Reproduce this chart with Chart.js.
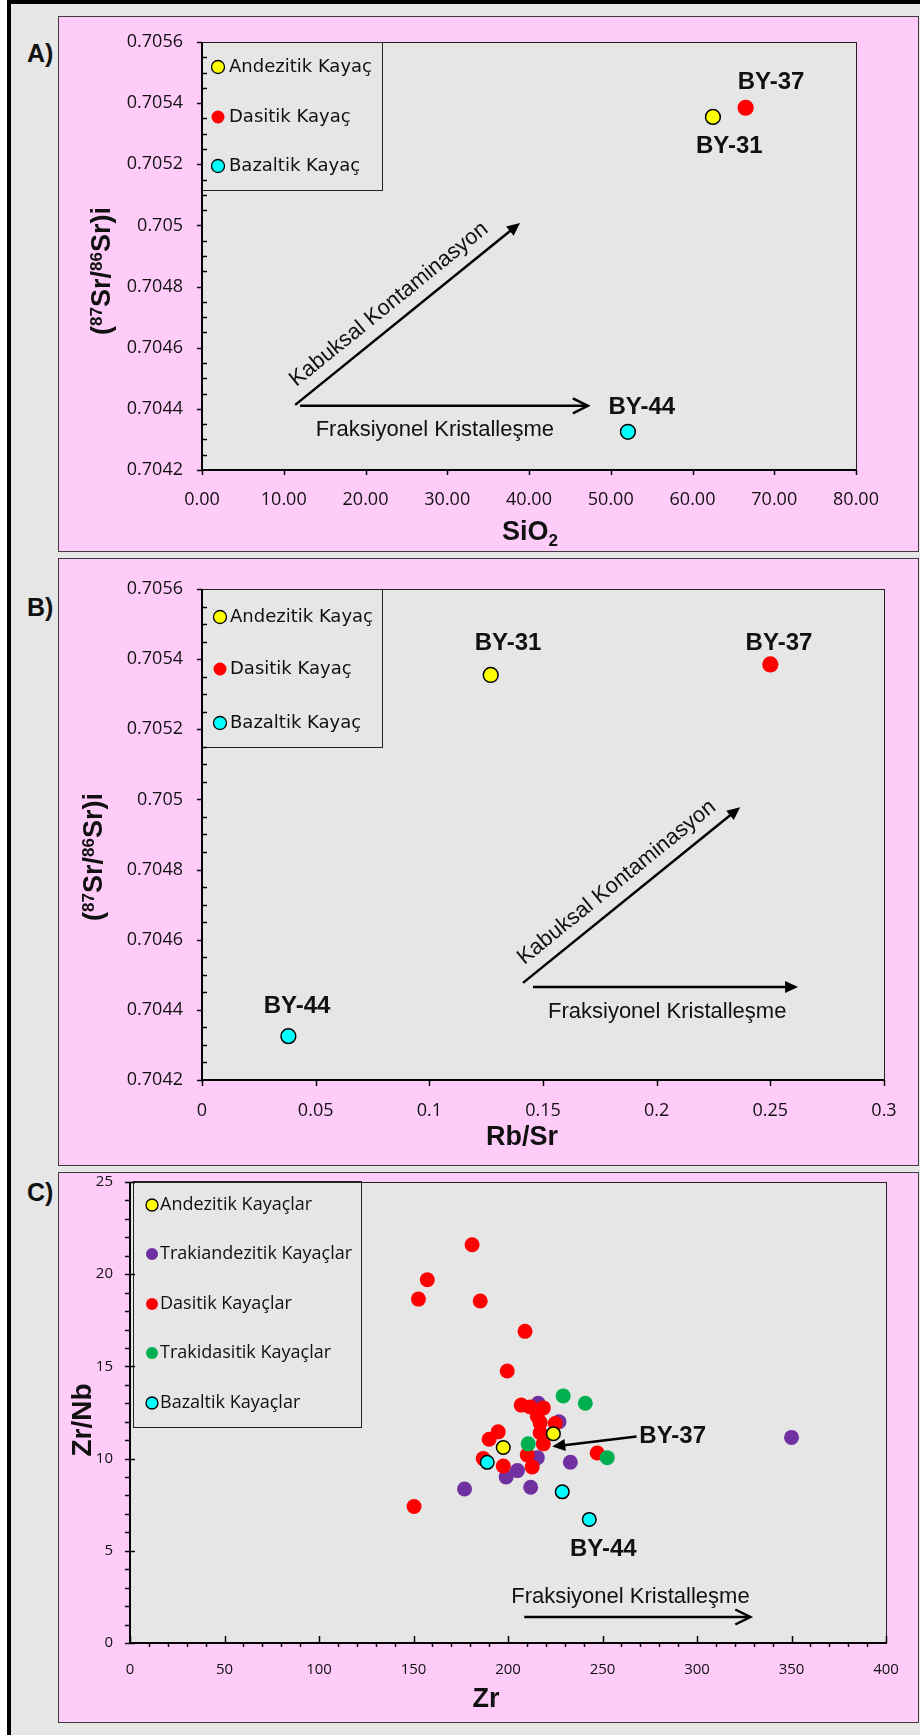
<!DOCTYPE html>
<html>
<head>
<meta charset="utf-8">
<script src="https://cdn.jsdelivr.net/npm/chart.js@4.4.0/dist/chart.umd.min.js"></script>
<style>
  body { margin: 0; background: #fff; width: 920px; height: 1735px; position: relative; overflow: hidden; }
  #frame { position: absolute; left: 7px; top: 0; width: 913px; height: 1735px; box-sizing: border-box;
           border-left: 4px solid #000; border-top: 4px solid #000; background: #e6e6e6; }
  .panel { position: absolute; left: 58px; width: 861px; box-sizing: border-box; background: #ffccfa; border: 1px solid #3c3c3c; }
  .panel canvas { position: absolute; left: -1px; top: -1px; }
  .tag { position: absolute; left: 27px; font: bold 25px "Liberation Sans", Arial, sans-serif; line-height: 25px; color: #111; }
</style>
</head>
<body>
<div id="frame"></div>
<div class="panel" style="top:16px;height:536px"><canvas id="cA" width="861" height="536"></canvas></div>
<div class="panel" style="top:558px;height:608px"><canvas id="cB" width="861" height="608"></canvas></div>
<div class="panel" style="top:1172px;height:551px"><canvas id="cC" width="861" height="551"></canvas></div>
<div class="tag" style="top:41px">A)</div>
<div class="tag" style="top:595px">B)</div>
<div class="tag" style="top:1180px">C)</div>
<script>
// panels A and B: three samples
const sampleIds = ['BY-31', 'BY-37', 'BY-44'];
const rockTypesAB = ['Andezitik Kayaç', 'Dasitik Kayaç', 'Bazaltik Kayaç'];
const sio2 = [62.5, 66.5, 52.1];
const rbSr = [0.127, 0.250, 0.038];
const srRatio = [0.705355, 0.705385, 0.704325];

const srTicks = [0.7042, 0.7044, 0.7046, 0.7048, 0.705, 0.7052, 0.7054, 0.7056];
const sio2Ticks = [0, 10, 20, 30, 40, 50, 60, 70, 80];
const rbSrTicks = [0, 0.05, 0.1, 0.15, 0.2, 0.25, 0.3];

// panel C: Zr vs Zr/Nb
const rockTypesC = ['Andezitik Kayaçlar', 'Trakiandezitik Kayaçlar', 'Dasitik Kayaçlar', 'Trakidasitik Kayaçlar', 'Bazaltik Kayaçlar'];
const zrAndezitik = [197.5, 224];
const zrNbAndezitik = [10.6, 11.35];
const zrTrakiandezitik = [216, 227, 215.5, 233, 205, 199, 177, 212, 350];
const zrNbTrakiandezitik = [13.0, 12.0, 10.05, 9.8, 9.35, 9.0, 8.35, 8.45, 11.15];
const zrDasitik = [181, 157.3, 152.6, 185.3, 209, 199.6, 207, 211.8, 218.7, 215.5, 217, 225, 217, 218.7, 194.8, 190, 186.9, 197.5, 210.2, 212.8, 247.2, 150.3];
const zrNbDasitik = [21.6, 19.7, 18.65, 18.55, 16.9, 14.75, 12.9, 12.8, 12.75, 12.3, 11.95, 11.9, 11.4, 10.8, 11.45, 11.05, 10.0, 9.6, 10.2, 9.55, 10.3, 7.4];
const zrTrakidasitik = [229.2, 240.9, 210.7, 252.5];
const zrNbTrakidasitik = [13.4, 13.0, 10.8, 10.05];
const zrBazaltik = [189, 228.7, 243];
const zrNbBazaltik = [9.8, 8.2, 6.7];

const zrTicks = [0, 50, 100, 150, 200, 250, 300, 350, 400];
const zrNbTicks = [0, 5, 10, 15, 20, 25];

const PLOT_BG = '#e6e6e6';
const TXT = '#111';
const ARIAL = '"Liberation Sans", Arial, sans-serif';

function drawArrow(ctx, p1, p2, head) {
    const ang = Math.atan2(p2[1] - p1[1], p2[0] - p1[0]);
    const c = Math.cos(ang), s = Math.sin(ang);
    const L = head === 'open' ? 15 : 13, W = head === 'open' ? 7.5 : 6;
    const bx = p2[0] - L * c, by = p2[1] - L * s;
    ctx.beginPath();
    ctx.moveTo(p1[0], p1[1]);
    if (head === 'open') ctx.lineTo(p2[0], p2[1]);
    else ctx.lineTo(bx + c, by + s);
    ctx.stroke();
    ctx.beginPath();
    ctx.moveTo(bx - W * s, by + W * c);
    ctx.lineTo(p2[0], p2[1]);
    ctx.lineTo(bx + W * s, by - W * c);
    if (head === 'open') ctx.stroke();
    else { ctx.closePath(); ctx.fill(); }
}

// bold title with sup/sub parts, centred on (cx, cy)
function richText(ctx, parts, cx, cy, rot, size) {
    const big = `bold ${size}px ${ARIAL}`;
    const small = `bold ${Math.round(size * 0.63)}px ${ARIAL}`;
    let w = 0;
    parts.forEach(([t, m]) => { ctx.font = m ? small : big; w += ctx.measureText(t).width; });
    ctx.save();
    ctx.translate(cx, cy);
    if (rot) ctx.rotate(-Math.PI / 2);
    ctx.textAlign = 'left';
    ctx.textBaseline = 'alphabetic';
    ctx.fillStyle = TXT;
    let x = -w / 2;
    const base = size * 0.716 / 2;
    parts.forEach(([t, m]) => {
        ctx.font = m ? small : big;
        const dy = m === 'sup' ? -size * 0.28 : m === 'sub' ? size * 0.24 : 0;
        ctx.fillText(t, x, base + dy);
        x += ctx.measureText(t).width;
    });
    ctx.restore();
}

function tickMarks(ctx, scale, a, step, inLen, outLen, skip) {
    const n = Math.round((scale.max - scale.min) / step);
    for (let i = 0; i <= n; i++) {
        const v = scale.min + i * step;
        if (skip && Math.abs(v / skip - Math.round(v / skip)) < 1e-6) continue;
        const p = Math.round(scale.getPixelForValue(v)) + 0.5;
        ctx.beginPath();
        if (scale.isHorizontal()) { ctx.moveTo(p, a.bottom - inLen); ctx.lineTo(p, a.bottom + outLen); }
        else { ctx.moveTo(a.left - outLen, p); ctx.lineTo(a.left + inLen, p); }
        ctx.stroke();
    }
}

const decor = {
    id: 'decor',
    beforeDatasetsDraw(chart) {
        const { ctx, chartArea: a } = chart;
        ctx.save();
        ctx.fillStyle = PLOT_BG;
        ctx.fillRect(a.left, a.top, a.right - a.left, a.bottom - a.top);
        ctx.restore();
    },
    afterDatasetsDraw(chart, args, o) {
        const { ctx, chartArea: a, scales } = chart;
        const P = (x, y) => [scales.x.getPixelForValue(x), scales.y.getPixelForValue(y)];
        ctx.save();

        // arrows
        ctx.strokeStyle = '#000';
        ctx.fillStyle = '#000';
        ctx.lineWidth = 2.5;
        const arrows = o.arrows.map(ar => ({ p1: P(...ar.from), p2: P(...ar.to), head: ar.head }));
        arrows.forEach(ar => drawArrow(ctx, ar.p1, ar.p2, ar.head));

        // labels
        o.texts.forEach(t => {
            ctx.font = t.font;
            ctx.fillStyle = TXT;
            if (t.along !== undefined) {
                const ar = arrows[t.along];
                const ang = Math.atan2(ar.p2[1] - ar.p1[1], ar.p2[0] - ar.p1[0]);
                ctx.save();
                ctx.translate(ar.p1[0], ar.p1[1]);
                ctx.rotate(ang);
                ctx.textAlign = 'left';
                ctx.textBaseline = 'alphabetic';
                ctx.fillText(t.t, t.shift, -t.lift);
                ctx.restore();
            } else {
                const [x, y] = P(...t.at);
                ctx.textAlign = t.align || 'center';
                ctx.textBaseline = 'middle';
                ctx.fillText(t.t, x, y);
            }
        });

        // legend box
        const lg = o.legend;
        ctx.fillStyle = PLOT_BG;
        ctx.fillRect(lg.x, lg.y, lg.w, lg.h);
        ctx.strokeStyle = '#222';
        ctx.lineWidth = 1;
        ctx.strokeRect(lg.x + 0.5, lg.y + 0.5, lg.w, lg.h);
        chart.data.datasets.forEach((ds, i) => {
            const cy = lg.rows[i];
            ctx.beginPath();
            ctx.arc(lg.mx, cy, lg.r, 0, Math.PI * 2);
            ctx.fillStyle = ds.backgroundColor;
            ctx.fill();
            if (ds.borderWidth) { ctx.lineWidth = 1.3; ctx.strokeStyle = '#000'; ctx.stroke(); }
            ctx.fillStyle = TXT;
            ctx.font = lg.font;
            ctx.textAlign = 'left';
            ctx.textBaseline = 'middle';
            ctx.fillText(ds.label, lg.tx, cy);
        });

        // frame and axes
        ctx.strokeStyle = '#222';
        ctx.lineWidth = 1;
        ctx.strokeRect(a.left + 0.5, a.top + 0.5, a.right - a.left, a.bottom - a.top);
        ctx.strokeStyle = '#000';
        ctx.lineWidth = 2;
        ctx.beginPath();
        ctx.moveTo(a.left, a.top);
        ctx.lineTo(a.left, a.bottom);
        ctx.lineTo(a.right, a.bottom);
        ctx.stroke();
        ctx.lineWidth = 1.5;
        o.ticks.forEach(tk => tickMarks(ctx, scales[tk.axis], a, tk.step, tk.inLen, tk.outLen, tk.skip));

        // axis titles
        o.titles.forEach(t => richText(ctx, t.parts, t.x, t.y, t.rot, t.size));
        ctx.restore();
    }
};

function axis(ticks, size, pad, fs, fmt) {
    return {
        type: 'linear',
        min: ticks[0],
        max: ticks[ticks.length - 1],
        afterBuildTicks: s => { s.ticks = ticks.map(v => ({ value: v })); },
        afterFit: s => {
            if (s.isHorizontal()) { s.height = size; s.paddingLeft = 0; s.paddingRight = 0; }
            else { s.width = size; s.paddingTop = 0; s.paddingBottom = 0; }
        },
        grid: { display: false, drawTicks: false },
        border: { display: false },
        ticks: {
            autoSkip: false, maxRotation: 0, minRotation: 0, padding: pad, color: TXT,
            font: { family: 'Open Sans', size: fs }, callback: fmt
        }
    };
}

function scatter(id, datasets, pad, x, y, decorOpts) {
    return new Chart(document.getElementById(id), {
        type: 'scatter',
        data: { datasets },
        options: {
            responsive: false,
            animation: false,
            events: [],
            layout: { padding: pad },
            plugins: { legend: { display: false }, tooltip: { enabled: false }, decor: decorOpts },
            scales: { x, y }
        },
        plugins: [decor]
    });
}

const colorsAB = ['#ffff00', '#ff0000', '#00ffff'];
const bordersAB = [1.5, 0, 1.5];

function samplesAgainst(xs) {
    return rockTypesAB.map((lab, i) => ({
        label: lab,
        data: [{ x: xs[i], y: srRatio[i] }],
        backgroundColor: colorsAB[i],
        borderColor: '#000',
        borderWidth: bordersAB[i],
        pointRadius: bordersAB[i] ? 7.4 : 8.1
    }));
}

const fmtSr = v => String(+v.toFixed(4));
const srTitle = [['(', ''], ['87', 'sup'], ['Sr/', ''], ['86', 'sup'], ['Sr)i', '']];
const labelFont = `bold 24px ${ARIAL}`;
const noteFont = `22px ${ARIAL}`;
const srTickMarks = [
    { axis: 'y', step: 0.0002, inLen: 0, outLen: 5 },
    { axis: 'y', step: 0.00005, inLen: 5, outLen: 0, skip: 0.0002 }
];

// A) SiO2
scatter('cA', samplesAgainst(sio2), { left: 0, top: 26, right: 63, bottom: 0 },
    axis(sio2Ticks, 82, 19, 18, v => v.toFixed(2)),
    axis(srTicks, 144, 19, 18, fmtSr),
    {
        arrows: [
            { from: [11.4, 0.704413], to: [38.9, 0.705008], head: 'fill' },
            { from: [12.0, 0.70441], to: [47.2, 0.70441], head: 'open' }
        ],
        texts: [
            { t: sampleIds[1], at: [69.6, 0.705469], font: labelFont },
            { t: sampleIds[0], at: [64.5, 0.70526], font: labelFont },
            { t: sampleIds[2], at: [53.8, 0.704406], font: labelFont },
            { t: 'Fraksiyonel Kristalleşme', at: [13.9, 0.704331], align: 'left', font: noteFont },
            { t: 'Kabuksal Kontaminasyon', along: 0, shift: 12, lift: 13, font: noteFont }
        ],
        legend: { x: 144, y: 26, w: 180, h: 148, mx: 160, tx: 171, rows: [51, 101, 150], r: 6.5, font: '18px "DejaVu Sans"' },
        ticks: srTickMarks.concat([{ axis: 'x', step: 10, inLen: 0, outLen: 5 }]),
        titles: [
            { parts: srTitle, x: 42, y: 255, rot: true, size: 27 },
            { parts: [['SiO', ''], ['2', 'sub']], x: 472, y: 514, rot: false, size: 27 }
        ]
    });

// B) Rb/Sr
scatter('cB', samplesAgainst(rbSr), { left: 0, top: 31, right: 35, bottom: 0 },
    axis(rbSrTicks, 86, 20, 18, v => String(+v.toFixed(2))),
    axis(srTicks, 144, 19, 18, fmtSr),
    {
        arrows: [
            { from: [0.1412, 0.704477], to: [0.2367, 0.704978], head: 'fill' },
            { from: [0.1456, 0.704465], to: [0.2622, 0.704465], head: 'fill' }
        ],
        texts: [
            { t: sampleIds[0], at: [0.1346, 0.705446], font: labelFont },
            { t: sampleIds[1], at: [0.2538, 0.705446], font: labelFont },
            { t: sampleIds[2], at: [0.0418, 0.704411], font: labelFont },
            { t: 'Fraksiyonel Kristalleşme', at: [0.1522, 0.704394], align: 'left', font: noteFont },
            { t: 'Kabuksal Kontaminasyon', along: 0, shift: 12, lift: 13, font: noteFont }
        ],
        legend: { x: 144, y: 31, w: 180, h: 158, mx: 162, tx: 172, rows: [59, 111, 165], r: 6.5, font: '18px "DejaVu Sans"' },
        ticks: srTickMarks.concat([{ axis: 'x', step: 0.05, inLen: 0, outLen: 6 }]),
        titles: [
            { parts: srTitle, x: 34, y: 299, rot: true, size: 27 },
            { parts: [['Rb/Sr', '']], x: 464, y: 577, rot: false, size: 27 }
        ]
    });

// C) Zr vs Zr/Nb
const groupsC = [
    [zrAndezitik, zrNbAndezitik, '#ffff00', 1.5, 1],
    [zrTrakiandezitik, zrNbTrakiandezitik, '#7030a0', 0, 4],
    [zrDasitik, zrNbDasitik, '#ff0000', 0, 3],
    [zrTrakidasitik, zrNbTrakidasitik, '#00b050', 0, 2],
    [zrBazaltik, zrNbBazaltik, '#00ffff', 1.5, 0]
];
const dsC = groupsC.map(([xs, ys, color, bw, order], i) => ({
    label: rockTypesC[i],
    data: xs.map((x, j) => ({ x, y: ys[j] })),
    backgroundColor: color,
    borderColor: '#000',
    borderWidth: bw,
    pointRadius: bw ? 6.8 : 7.5,
    order
}));

scatter('cC', dsC, { left: 0, top: 10, right: 33, bottom: 0 },
    axis(zrTicks, 80, 18, 15, v => String(v)),
    axis(zrNbTicks, 72, 17, 15, v => String(v)),
    {
        arrows: [
            { from: [208.6, 1.41], to: [328.2, 1.41], head: 'open' },
            { from: [268, 11.2], to: [223.4, 10.65], head: 'fill' }
        ],
        texts: [
            { t: 'BY-44', at: [250.4, 5.1], font: labelFont },
            { t: 'BY-37', at: [269.5, 11.2], align: 'left', font: labelFont },
            { t: 'Fraksiyonel Kristalleşme', at: [201.7, 2.5], align: 'left', font: noteFont }
        ],
        legend: { x: 75, y: 9, w: 228, h: 246, mx: 94, tx: 102, rows: [33, 82, 132, 181, 231], r: 6, font: '18px "Open Sans"' },
        ticks: [
            { axis: 'y', step: 5, inLen: 5, outLen: 5 },
            { axis: 'y', step: 1, inLen: 0, outLen: 5, skip: 5 },
            { axis: 'x', step: 50, inLen: 7, outLen: 0 },
            { axis: 'x', step: 10, inLen: 0, outLen: 4, skip: 50 }
        ],
        titles: [
            { parts: [['Zr/Nb', '']], x: 23, y: 248, rot: true, size: 28 },
            { parts: [['Zr', '']], x: 428, y: 525, rot: false, size: 27 }
        ]
    });
</script>
</body>
</html>
